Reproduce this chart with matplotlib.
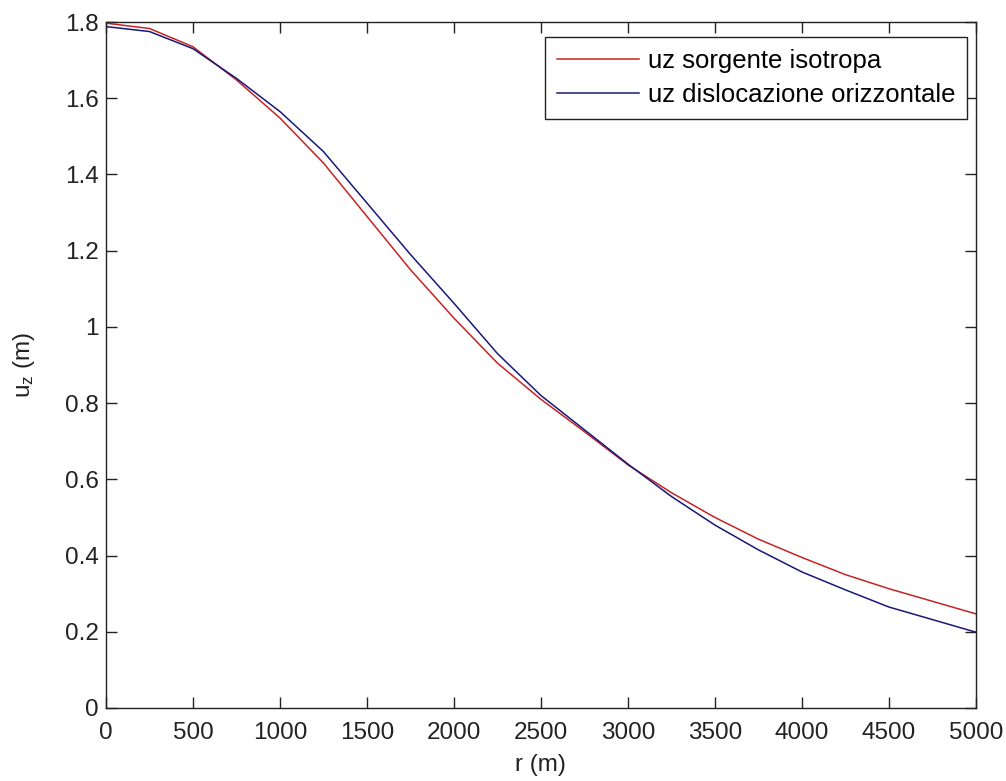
import matplotlib
matplotlib.use('Agg')
import matplotlib.pyplot as plt
import numpy as np

# values
r = [0, 250, 500, 750, 1000, 1250, 1500, 1750, 2000, 2250, 2500, 2750,
     3000, 3250, 3500, 3750, 4000, 4250, 4500, 4750, 5000]
uz_iso = [1.797, 1.783, 1.735, 1.648, 1.548, 1.43, 1.29, 1.15, 1.023, 0.905, 0.81, 0.725,
          0.638, 0.565, 0.50, 0.443, 0.395, 0.35, 0.313, 0.28, 0.247]
uz_disl = [1.788, 1.775, 1.73, 1.652, 1.565, 1.46, 1.325, 1.19, 1.062, 0.93, 0.82, 0.73,
           0.64, 0.555, 0.48, 0.415, 0.357, 0.31, 0.265, 0.232, 0.199]

yticks = [0, 0.2, 0.4, 0.6, 0.8, 1, 1.2, 1.4, 1.6, 1.8]
ytick_labels = ['0', '0.2', '0.4', '0.6', '0.8', '1', '1.2', '1.4', '1.6', '1.8']
xticks = [0, 500, 1000, 1500, 2000, 2500, 3000, 3500, 4000, 4500, 5000]

plt.rcParams['font.family'] = ['Liberation Sans', 'DejaVu Sans']
plt.rcParams['font.size'] = 17.5

fig = plt.figure(figsize=(10.06, 7.81), dpi=100)
ax = fig.add_axes([0.1054, 0.0935, 0.8646, 0.8783])

ax.plot(r, uz_iso, color='#c42424', lw=1.1, label='uz sorgente isotropa')
ax.plot(r, uz_disl, color='#18187a', lw=1.1, label='uz dislocazione orizzontale')

ax.set_xlim(0, 5000)
ax.set_ylim(0, 1.8)
ax.set_xticks(xticks)
ax.set_xticklabels([str(v) for v in xticks])
ax.set_yticks(yticks)
ax.set_yticklabels(ytick_labels)
ax.tick_params(direction='in', top=True, right=True, length=8, width=1, color='#222222',
               labelcolor='#222222')
ax.tick_params(axis='x', pad=10)
ax.tick_params(axis='y', pad=5)
for s in ax.spines.values():
    s.set_linewidth(1)
    s.set_color('#222222')

ax.set_xlabel('r (m)', color='#222222', labelpad=7)
ax.set_ylabel(r'$\mathregular{u_z}$ (m)', color='#222222', labelpad=20)

leg = ax.legend(loc='upper right', bbox_to_anchor=(967 / 1006, 1 - 37 / 781),
                bbox_transform=fig.transFigure, borderaxespad=0,
                fancybox=False, framealpha=1, edgecolor='#222222', fontsize=18.5,
                handlelength=3.2, borderpad=0.45, labelspacing=0.42,
                handletextpad=0.35)
leg.get_frame().set_linewidth(1)

plt.savefig('out.png', dpi=100)
